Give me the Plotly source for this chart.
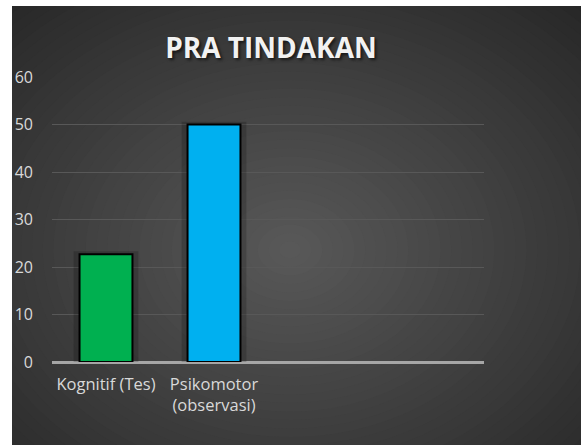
import plotly.graph_objects as go

categories = ["Kognitif (Tes)", "Psikomotor<br>(observasi)", "", ""]
values = [22.7, 50, None, None]
bar_colors = ["#00b050", "#00b0f0", "#00b050", "#00b050"]
y_ticks = [0, 10, 20, 30, 40, 50, 60]

W, H = 581, 445
ML, MR, MT, MB = 52, 97, 77, 83
pw, ph = W - ML - MR, H - MT - MB


def px_x(x):
    return (x - ML) / pw


def px_y(y):
    return (H - MB - y) / ph


x_pos = list(range(len(categories)))

fig = go.Figure()

# soft shadow behind bars
fig.add_trace(go.Bar(
    x=x_pos, y=[v + 0.6 if v is not None else None for v in values],
    width=0.6, marker=dict(color="rgba(0,0,0,0.18)", line=dict(width=0)),
    hoverinfo="skip", showlegend=False,
))
fig.add_trace(go.Bar(
    x=x_pos, y=values, width=0.49,
    marker=dict(color=bar_colors, line=dict(color="#000000", width=2)),
    showlegend=False,
))

# background: white border, dark panel with radial gradient
shapes = [dict(type="rect", xref="paper", yref="paper", layer="below",
               x0=px_x(12), x1=px_x(W + 2), y0=px_y(6), y1=px_y(H + 2),
               fillcolor="#262626", line=dict(width=0))]
dark = (0x26, 0x26, 0x26)
light = (0x58, 0x58, 0x58)
cx, cy = 290, 250
N = 40
for i in range(N):
    t = (i + 1) / N
    r = 1 - i / N
    col = "rgb(%d,%d,%d)" % tuple(round(d + (l - d) * t) for d, l in zip(dark, light))
    rx, ry = 430 * r, 340 * r
    shapes.append(dict(type="circle", xref="paper", yref="paper", layer="below",
                       x0=px_x(cx - rx), x1=px_x(cx + rx),
                       y0=px_y(cy + ry), y1=px_y(cy - ry),
                       fillcolor=col, line=dict(width=0)))
# mask outside the dark panel in white
shapes.append(dict(type="rect", xref="paper", yref="paper", layer="below",
                   x0=px_x(-5), x1=px_x(12), y0=px_y(-5), y1=px_y(H + 5),
                   fillcolor="#ffffff", line=dict(width=0)))
shapes.append(dict(type="rect", xref="paper", yref="paper", layer="below",
                   x0=px_x(-5), x1=px_x(W + 5), y0=px_y(-5), y1=px_y(6),
                   fillcolor="#ffffff", line=dict(width=0)))

fig.update_layout(
    width=W, height=H,
    margin=dict(l=ML, r=MR, t=MT, b=MB),
    paper_bgcolor="#ffffff",
    plot_bgcolor="rgba(0,0,0,0)",
    barmode="overlay",
    shapes=shapes,
    font=dict(family="Open Sans", color="#d9d9d9", size=16.5),
    title=dict(
        text="<b>PRA TINDAKAN</b>",
        xref="container", x=271 / W, xanchor="center",
        yref="container", y=1 - 48 / H, yanchor="middle",
        font=dict(family="Open Sans", size=28, color="#f2f2f2",
                  shadow="2px 2px 3px rgba(0,0,0,0.6)"),
    ),
)
fig.update_xaxes(
    range=[-0.5, len(categories) - 0.5],
    tickvals=x_pos, ticktext=categories,
    showgrid=False, zeroline=False, showline=False, ticks="",
    ticklabelstandoff=10,
    tickfont=dict(size=16.5, color="#d9d9d9"),
)
fig.update_yaxes(
    range=[0, 60], tickvals=y_ticks,
    showgrid=True, gridcolor="#585858", gridwidth=1,
    zeroline=True, zerolinecolor="#a6a6a6", zerolinewidth=2.5,
    showline=False, ticks="", ticklabelstandoff=18,
    tickfont=dict(size=16, color="#d9d9d9"),
)

fig.write_html("out.html", config={"displayModeBar": False},
               post_script="document.body.style.margin='0px';")
